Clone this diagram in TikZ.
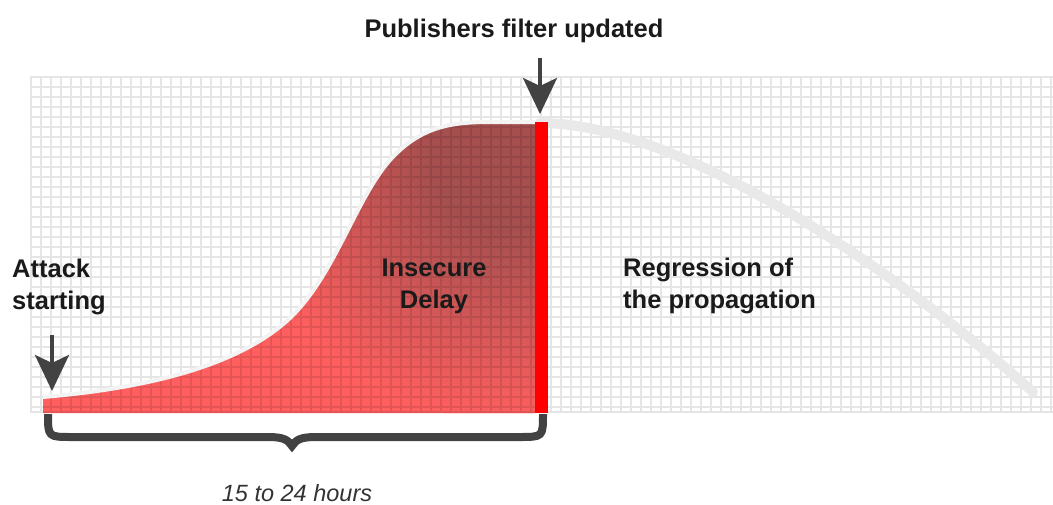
\documentclass[tikz,border=0pt]{standalone}
\usepackage{fontspec}
\setmainfont{Liberation Sans}
\usetikzlibrary{arrows.meta}

\definecolor{brightR}{HTML}{FF5F5F}
\definecolor{darkR}{HTML}{A64F4F}
\definecolor{barR}{HTML}{FF0000}
\definecolor{ink}{HTML}{424242}
\definecolor{trail}{HTML}{E9E9E9}
\definecolor{rim}{HTML}{F3F3F3}
\definecolor{txt}{HTML}{1A1A1A}
\definecolor{note}{HTML}{333333}

% dark core fading out to the bright red
\pgfdeclareradialshading{redglow}{\pgfpoint{0bp}{0bp}}{%
  color(0bp)=(darkR); color(7bp)=(darkR); color(25bp)=(brightR); color(50bp)=(brightR)}

% rising edge of the infection curve
\def\risepath{(43,397) .. controls (150,388) and (240,365) .. (290,318)
  .. controls (335,275) and (355,200) .. (390,160)
  .. controls (420,127) and (450,122) .. (490,122) -- (535,122)}

\begin{document}
\begin{tikzpicture}[x=1pt,y=-1pt,
  gridline/.style={draw=black, draw opacity=0.1, line width=2pt},
  lbl/.style={font=\fontsize{25.5}{32}\selectfont\bfseries, text=txt, inner sep=0pt, align=left},
  centerlbl/.style={lbl, align=center},
  pointer/.style={draw=ink, line width=4pt, -{Stealth[length=36pt,width=34pt,inset=8pt]}},
  bracestroke/.style={draw=ink, line width=8pt},
  fadingtrail/.style={draw=trail, line width=10pt, line cap=round},
  rimstroke/.style={draw=rim, line width=4pt}]
\useasboundingbox (0,0) rectangle (1053,504);

% red area under the curve
\fill[brightR] (43,413) -- \risepath -- (535,413) -- cycle;
\begin{scope}
  \clip (43,413) -- \risepath -- (535,413) -- cycle;
  \shade[shading=redglow] (505,155) circle (265);
\end{scope}

% background grid
\draw[gridline]
  \foreach \i in {0,...,102} {(30.5+10*\i,76) -- (30.5+10*\i,413)}
  \foreach \j in {0,...,33} {(29.5,77+10*\j) -- (1053,77+10*\j)}
  (29.5,412) -- (1053,412);

% light rim of the rising edge and the fading regression trail
\draw[rimstroke] \risepath;
\draw[fadingtrail] (540,123) .. controls (690,123) and (920,290) .. (1033,392);

% filter update bar
\fill[barR] (535,122) rectangle (548,413);

% labels
\node[lbl, anchor=base] (pub) at (514,37) {Publishers filter updated};
\node[lbl, anchor=base west] (attack) at (12,309) {Attack\\starting};
\node[centerlbl, anchor=base] (delay) at (434,308) {Insecure\\Delay};
\node[lbl, anchor=base west] (regress) at (623,308) {Regression of\\the propagation};
\node[font=\fontsize{23.5}{28}\selectfont\itshape, text=note, inner sep=0pt, anchor=base] (span) at (297,501) {15 to 24 hours};

% pointers
\coordinate (pubFrom) at (540,58);
\coordinate (pubTo) at (540,114);
\coordinate (attFrom) at (52,335);
\coordinate (attTo) at (52,391);
\draw[pointer] (pubFrom) -- (pubTo);
\draw[pointer] (attFrom) -- (attTo);

% brace spanning the delay
\coordinate (braceL) at (48,414);
\coordinate (braceM) at (292,446);
\coordinate (braceR) at (543,414);
\draw[bracestroke] (braceL) .. controls (48,437) .. (72,437) -- (268,437)
  .. controls (284,437) and (288,440) .. (braceM)
  .. controls (296,440) and (300,437) .. (316,437) -- (519,437)
  .. controls (543,437) .. (braceR);
\end{tikzpicture}
\end{document}
